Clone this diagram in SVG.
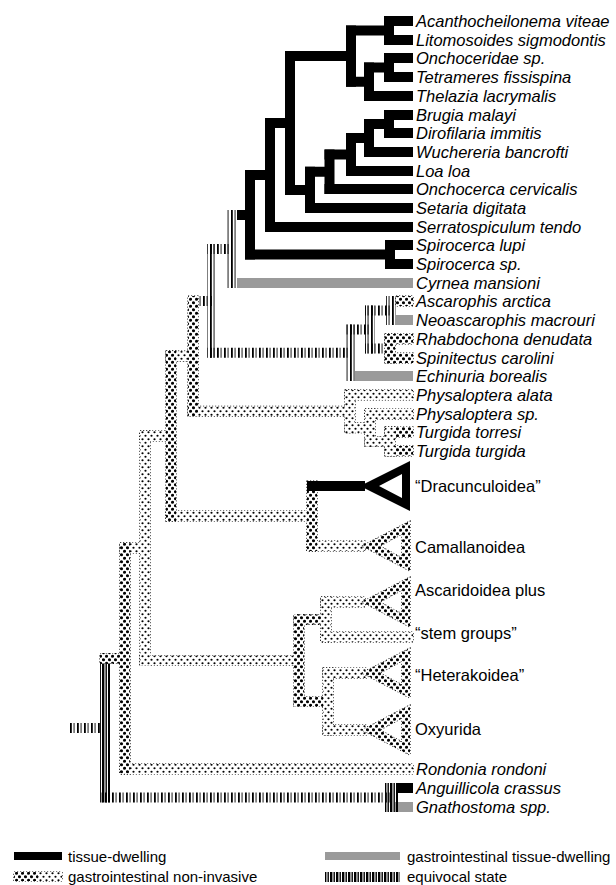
<svg xmlns="http://www.w3.org/2000/svg" width="616" height="885" viewBox="0 0 616 885">
<defs>
<pattern id="dL" width="6" height="7" patternUnits="userSpaceOnUse"><rect width="6" height="7" fill="#fff"/><circle cx="1.5" cy="1.75" r="1.55"/><circle cx="4.5" cy="5.25" r="1.55"/></pattern>
<pattern id="dS" width="6" height="7" patternUnits="userSpaceOnUse"><rect width="6" height="7" fill="#fff"/><circle cx="1.5" cy="1.75" r="1.1"/><circle cx="4.5" cy="5.25" r="1.1"/></pattern>
<pattern id="eq" width="7" height="10" patternUnits="userSpaceOnUse"><rect x="0" width="1.8" height="10"/><rect x="3.6" width="0.9" height="10"/></pattern>
<pattern id="eqD" width="6" height="10" patternUnits="userSpaceOnUse"><rect x="0" width="2.4" height="10"/><rect x="3.5" width="1.4" height="10"/></pattern>
</defs>
<style>
.k{fill:#000}
.g{fill:#9a9a9a}
.dl{fill:url(#dL)}
.ds{fill:url(#dS)}
.e{fill:url(#eq)}
.ed{fill:url(#eqD)}
.o rect,.ol{fill:none;stroke:#000;stroke-width:1.2;stroke-dasharray:1.2 1.8}
.tri{fill-rule:evenodd}
text{font-family:"Liberation Sans",Arial,sans-serif;fill:#000}
.t{font-size:16.5px;font-style:italic}
.n{font-size:16.5px}
.lg{font-size:15px}
</style>
<rect width="616" height="885" fill="#fff"/>

<g id="connectors">
 <g class="k">
  <rect x="384" y="16" width="29" height="10"/>
  <rect x="384" y="35" width="29" height="10"/>
  <rect x="384" y="16" width="10" height="29"/>
  <rect x="384" y="53" width="29" height="10"/>
  <rect x="384" y="72" width="29" height="10"/>
  <rect x="384" y="53" width="10" height="29"/>
  <rect x="364" y="62.5" width="25" height="10"/>
  <rect x="364" y="91" width="49" height="10"/>
  <rect x="364" y="62.5" width="10" height="38.5"/>
  <rect x="346" y="25.5" width="43" height="10"/>
  <rect x="346" y="76.75" width="23" height="10"/>
  <rect x="346" y="25.5" width="10" height="61.25"/>
  <rect x="285" y="51" width="66" height="10"/>
  <rect x="384" y="110" width="29" height="10"/>
  <rect x="384" y="128" width="29" height="10"/>
  <rect x="384" y="110" width="10" height="28"/>
  <rect x="364" y="119" width="25" height="10"/>
  <rect x="364" y="147" width="49" height="10"/>
  <rect x="364" y="119" width="10" height="38"/>
  <rect x="346" y="133" width="23" height="10"/>
  <rect x="346" y="166" width="67" height="10"/>
  <rect x="346" y="133" width="10" height="43"/>
  <rect x="324.5" y="149.5" width="26.5" height="10"/>
  <rect x="324.5" y="184" width="88.5" height="10"/>
  <rect x="324.5" y="149.5" width="10" height="44.5"/>
  <rect x="305" y="166.75" width="24.5" height="10"/>
  <rect x="305" y="203" width="108" height="10"/>
  <rect x="305" y="166.75" width="10" height="46.25"/>
  <rect x="285" y="185" width="25" height="10"/>
  <rect x="285" y="51" width="10" height="144"/>
  <rect x="265" y="118" width="25" height="10"/>
  <rect x="265" y="222" width="148" height="10"/>
  <rect x="265" y="118" width="10" height="114"/>
  <rect x="245" y="170" width="25" height="10"/>
  <rect x="385" y="240" width="28" height="10"/>
  <rect x="385" y="259" width="28" height="10"/>
  <rect x="385" y="240" width="10" height="29"/>
  <rect x="245" y="249.5" width="145" height="10"/>
  <rect x="245" y="170" width="10" height="89.5"/>
  <rect x="237" y="210" width="13" height="10"/>
  <rect x="398" y="783" width="15" height="10"/>
 </g>
 <g class="g">
  <rect x="237" y="278" width="176" height="10"/>
  <rect x="396" y="315" width="17" height="10"/>
  <rect x="355" y="371" width="58" height="10"/>
  <rect x="395" y="802" width="18" height="10"/>
 </g>
 <g class="e">
  <rect x="227" y="210" width="10" height="78"/>
  <rect x="207" y="244" width="25" height="10"/>
  <rect x="207" y="244" width="10" height="113.75"/>
  <rect x="207" y="347.75" width="143" height="10"/>
  <rect x="345" y="324.5" width="10" height="56.5"/>
  <rect x="345" y="324.5" width="25" height="10"/>
  <rect x="365" y="305.5" width="10" height="48"/>
  <rect x="365" y="305.5" width="26" height="10"/>
  <rect x="386" y="296" width="10" height="29"/>
  <rect x="365" y="343.5" width="25" height="10"/>
  <rect x="188" y="296" width="24" height="10"/>
  <rect x="70" y="723" width="30" height="10"/>
  <rect x="100" y="792.5" width="290" height="10"/>
 </g>
 <g class="ed">
  <rect x="100" y="653.5" width="10" height="149"/>
  <rect x="385" y="783" width="13" height="29"/>
 </g>
 <g class="o">
  <rect x="396" y="296" width="17" height="10"/>
  <rect x="385" y="334" width="28" height="10"/>
  <rect x="385" y="353" width="28" height="10"/>
  <rect x="385" y="334" width="10" height="29"/>
  <rect x="345" y="390" width="68" height="10"/>
  <rect x="365" y="409" width="48" height="10"/>
  <rect x="385" y="427" width="28" height="10"/>
  <rect x="385" y="446" width="28" height="10"/>
  <rect x="385" y="427" width="10" height="29"/>
  <rect x="365" y="436.5" width="20" height="10"/>
  <rect x="365" y="409" width="10" height="37.5"/>
  <rect x="345" y="422.75" width="20" height="10"/>
  <rect x="345" y="390" width="10" height="42.75"/>
  <rect x="188" y="406.4" width="157" height="10"/>
  <rect x="188" y="296" width="10" height="120.4"/>
  <rect x="166" y="351.2" width="22" height="10"/>
  <rect x="307" y="541" width="58" height="10"/>
  <rect x="307" y="481" width="10" height="70"/>
  <rect x="166" y="511" width="141" height="10"/>
  <rect x="166" y="351.2" width="10" height="169.8"/>
  <rect x="140" y="431" width="26" height="10"/>
  <rect x="321" y="597" width="44" height="10"/>
  <rect x="321" y="632" width="92" height="10"/>
  <rect x="321" y="597" width="10" height="45"/>
  <rect x="294" y="614.5" width="27" height="10"/>
  <rect x="323" y="668" width="44" height="10"/>
  <rect x="323" y="725" width="44" height="10"/>
  <rect x="323" y="668" width="10" height="67"/>
  <rect x="294" y="696.5" width="29" height="10"/>
  <rect x="294" y="614.5" width="10" height="92"/>
  <rect x="140" y="655.5" width="154" height="10"/>
  <rect x="140" y="431" width="10" height="234.5"/>
  <rect x="120" y="543" width="20" height="10"/>
  <rect x="120" y="764" width="293" height="10"/>
  <rect x="120" y="543" width="10" height="231"/>
  <rect x="100" y="653.5" width="20" height="10"/>
 </g>
 <g>
  <rect class="ds" x="345" y="390" width="68" height="10"/>
  <rect class="ds" x="365" y="409" width="48" height="10"/>
  <rect class="dl" x="385" y="427" width="28" height="10"/>
  <rect class="dl" x="385" y="446" width="28" height="10"/>
  <rect class="ds" x="385" y="427" width="10" height="29"/>
  <rect class="ds" x="365" y="436.5" width="20" height="10"/>
  <rect class="ds" x="365" y="409" width="10" height="37.5"/>
  <rect class="ds" x="345" y="422.75" width="20" height="10"/>
  <rect class="ds" x="345" y="390" width="10" height="42.75"/>
  <rect class="ds" x="188" y="406.4" width="157" height="10"/>
  <rect class="dl" x="188" y="296" width="10" height="120.4"/>
  <rect class="ds" x="166" y="351.2" width="22" height="10"/>
  <rect class="ds" x="307" y="541" width="58" height="10"/>
  <rect class="dl" x="307" y="481" width="10" height="70"/>
  <rect class="ds" x="166" y="511" width="141" height="10"/>
  <rect class="dl" x="166" y="351.2" width="10" height="169.8"/>
  <rect class="ds" x="140" y="431" width="26" height="10"/>
  <rect class="ds" x="321" y="597" width="44" height="10"/>
  <rect class="ds" x="321" y="632" width="92" height="10"/>
  <rect class="ds" x="321" y="597" width="10" height="45"/>
  <rect class="dl" x="294" y="614.5" width="27" height="10"/>
  <rect class="ds" x="323" y="668" width="44" height="10"/>
  <rect class="ds" x="323" y="725" width="44" height="10"/>
  <rect class="ds" x="323" y="668" width="10" height="67"/>
  <rect class="dl" x="294" y="696.5" width="29" height="10"/>
  <rect class="dl" x="294" y="614.5" width="10" height="92"/>
  <rect class="ds" x="140" y="655.5" width="154" height="10"/>
  <rect class="ds" x="140" y="431" width="10" height="234.5"/>
  <rect class="ds" x="120" y="543" width="20" height="10"/>
  <rect class="ds" x="120" y="764" width="293" height="10"/>
  <rect class="dl" x="120" y="543" width="10" height="231"/>
  <rect class="dl" x="100" y="653.5" width="20" height="10"/>
  <rect class="dl" x="396" y="296" width="17" height="10"/>
  <rect class="dl" x="385" y="334" width="28" height="10"/>
  <rect class="dl" x="385" y="353" width="28" height="10"/>
  <rect class="dl" x="385" y="334" width="10" height="29"/>
 </g>
 <rect class="k" x="307" y="481" width="58" height="10"/>
</g>

<g id="n01"><text class="t" x="416" y="26.5">Acanthocheilonema viteae</text></g>
<g id="n02"><text class="t" x="416" y="45.5">Litomosoides sigmodontis</text></g>
<g id="n03"><text class="t" x="416" y="63.5">Onchoceridae sp.</text></g>
<g id="n04"><text class="t" x="416" y="82.5">Tetrameres fissispina</text></g>
<g id="n05"><text class="t" x="416" y="101.5">Thelazia lacrymalis</text></g>
<g id="n06"><text class="t" x="416" y="120.5">Brugia malayi</text></g>
<g id="n07"><text class="t" x="416" y="138.5">Dirofilaria immitis</text></g>
<g id="n08"><text class="t" x="416" y="157.5">Wuchereria bancrofti</text></g>
<g id="n09"><text class="t" x="416" y="176.5">Loa loa</text></g>
<g id="n10"><text class="t" x="416" y="194.5">Onchocerca cervicalis</text></g>
<g id="n11"><text class="t" x="416" y="213.5">Setaria digitata</text></g>
<g id="n12"><text class="t" x="416" y="232.5">Serratospiculum tendo</text></g>
<g id="n13"><text class="t" x="416" y="250.5">Spirocerca lupi</text></g>
<g id="n14"><text class="t" x="416" y="269.5">Spirocerca sp.</text></g>
<g id="n15"><text class="t" x="416" y="288.5">Cyrnea mansioni</text></g>
<g id="n16"><text class="t" x="416" y="306.5">Ascarophis arctica</text></g>
<g id="n17"><text class="t" x="416" y="325.5">Neoascarophis macrouri</text></g>
<g id="n18"><text class="t" x="416" y="344.5">Rhabdochona denudata</text></g>
<g id="n19"><text class="t" x="416" y="363.5">Spinitectus carolini</text></g>
<g id="n20"><text class="t" x="416" y="381.5">Echinuria borealis</text></g>
<g id="n21"><text class="t" x="416" y="400.5">Physaloptera alata</text></g>
<g id="n22"><text class="t" x="416" y="419.5">Physaloptera sp.</text></g>
<g id="n23"><text class="t" x="416" y="437.5">Turgida torresi</text></g>
<g id="n24"><text class="t" x="416" y="456.5">Turgida turgida</text></g>
<g id="dracunculoidea">
 <path class="k tri" d="M360 486L410 461L410 511ZM379 486L402 498L402 474Z"/>
 <text class="n" x="415" y="491.5">“Dracunculoidea”</text>
</g>
<g id="camallanoidea">
 <path class="ol" d="M362 546L410 521L410 571ZM380 546L402 558L402 534Z"/>
 <path class="dl tri" d="M362 546L410 521L410 571ZM380 546L402 558L402 534Z"/>
 <text class="n" x="415" y="552.5">Camallanoidea</text>
</g>
<g id="ascaridoidea">
 <path class="ol" d="M362 602L410 577L410 627ZM380 602L402 614L402 590Z"/>
 <path class="dl tri" d="M362 602L410 577L410 627ZM380 602L402 614L402 590Z"/>
 <text class="n" x="415" y="595.5">Ascaridoidea plus</text>
</g>
<g id="stemgroups"><text class="n" x="415" y="638.5">“stem groups”</text></g>
<g id="heterakoidea">
 <path class="ol" d="M362 673L410 648L410 698ZM380 673L402 685L402 661Z"/>
 <path class="dl tri" d="M362 673L410 648L410 698ZM380 673L402 685L402 661Z"/>
 <text class="n" x="415" y="680.5">“Heterakoidea”</text>
</g>
<g id="oxyurida">
 <path class="ol" d="M362 730L410 705L410 755ZM380 730L402 742L402 718Z"/>
 <path class="dl tri" d="M362 730L410 705L410 755ZM380 730L402 742L402 718Z"/>
 <text class="n" x="415" y="734.5">Oxyurida</text>
</g>
<g id="rondonia"><text class="t" x="416" y="774.5">Rondonia rondoni</text></g>
<g id="anguillicola"><text class="t" x="416" y="793.5">Anguillicola crassus</text></g>
<g id="gnathostoma"><text class="t" x="416" y="812.5">Gnathostoma spp.</text></g>

<g id="legend">
 <rect class="k" x="14" y="852" width="48" height="8"/>
 <text class="lg" x="68" y="862">tissue-dwelling</text>
 <rect class="ol" x="14" y="872" width="48" height="9"/>
 <rect class="dl" x="14" y="872" width="24" height="9"/>
 <rect class="ds" x="38" y="872" width="24" height="9"/>
 <text class="lg" x="68" y="882">gastrointestinal non-invasive</text>
 <rect class="g" x="325" y="852" width="75" height="8"/>
 <text class="lg" x="407" y="862">gastrointestinal tissue-dwelling</text>
 <rect class="ed" x="325" y="872" width="75" height="10"/>
 <text class="lg" x="407" y="882">equivocal state</text>
</g>
</svg>
